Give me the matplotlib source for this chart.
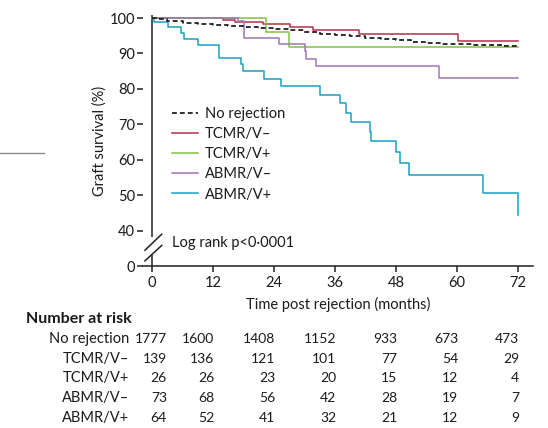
import numpy as np
import matplotlib
matplotlib.use("Agg")
import matplotlib.pyplot as plt
import matplotlib.transforms as mtrans

plt.rcParams['font.family'] = ['Lato', 'DejaVu Sans']
plt.rcParams['lines.scale_dashes'] = False

# Kaplan-Meier graft survival (%) by rejection group
groups = ["No rejection", "TCMR/V\u2013", "TCMR/V+", "ABMR/V\u2013", "ABMR/V+"]
colors = ["#231f20", "#b3304a", "#7fc241", "#9c76b6", "#1aa1c1"]

t_none = [0, 1, 3, 6, 9, 12, 15, 18, 21, 24, 27, 30, 33, 36, 39, 42, 45, 48, 51,
          54, 57, 60, 63, 66, 69, 72]
s_none = [100, 99.6, 99.2, 98.7, 98.3, 98.0, 97.8, 97.5, 97.2, 96.9, 96.5, 96.0,
          95.6, 95.2, 94.8, 94.4, 94.0, 93.7, 93.3, 93.0, 92.8, 92.6, 92.5, 92.3,
          92.2, 92.1]

t_tcmr_neg = [0, 14.0, 16.3, 21.9, 27.1, 31.7, 40.8, 60.3, 72]
s_tcmr_neg = [100, 99.5, 99.0, 98.2, 97.4, 96.6, 95.4, 93.6, 93.6]

t_tcmr_pos = [0, 22.4, 27.0, 72]
s_tcmr_pos = [100, 96.0, 91.8, 91.8]

t_abmr_neg = [0, 16.9, 18.1, 25.0, 30.1, 30.4, 32.2, 56.5, 72]
s_abmr_neg = [100, 99.2, 94.4, 92.6, 90.7, 88.5, 86.5, 83.1, 83.1]

t_abmr_pos = [0, 0.3, 3.1, 5.7, 6.2, 9.1, 13.2, 17.6, 18.0, 22.0, 25.4, 33.1,
              37.1, 38.1, 39.1, 42.9, 43.1, 48.1, 48.9, 50.6, 65.1, 72.0]
s_abmr_pos = [100, 98.9, 97.4, 95.7, 94.1, 92.5, 88.8, 87.1, 85.0, 82.8, 80.8,
              78.4, 75.9, 73.3, 70.7, 67.9, 65.3, 62.2, 59.0, 55.6, 50.5, 44.4]

times = [t_none, t_tcmr_neg, t_tcmr_pos, t_abmr_neg, t_abmr_pos]
surv = [s_none, s_tcmr_neg, s_tcmr_pos, s_abmr_neg, s_abmr_pos]

# Number at risk
risk_times = [0, 12, 24, 36, 48, 60, 72]
at_risk = {
    "No rejection": [1777, 1600, 1408, 1152, 933, 673, 473],
    "TCMR/V\u2013": [139, 136, 121, 101, 77, 54, 29],
    "TCMR/V+": [26, 26, 23, 20, 15, 12, 4],
    "ABMR/V\u2013": [73, 68, 56, 42, 28, 19, 7],
    "ABMR/V+": [64, 52, 41, 32, 21, 12, 9],
}

yticks = [0, 40, 50, 60, 70, 80, 90, 100]
xticks = [0, 12, 24, 36, 48, 60, 72]

W, H = 548, 428
fig = plt.figure(figsize=(W / 100, H / 100), dpi=100)
ax = fig.add_axes([142.9 / W, 1 - 266 / H, (533 - 142.9) / W, 251 / H])

# broken y axis: 0-40 compressed into a short segment
def fwd(v):
    v = np.asarray(v, dtype=float)
    return np.where(v >= 40, v, 30 + v * 0.25)

def inv(u):
    u = np.asarray(u, dtype=float)
    return np.where(u >= 40, u, (u - 30) * 4)

YTOP = 100.85
ax.set_yscale('function', functions=(fwd, inv))
ax.set_xlim(-1.8, 75)
ax.set_ylim(0, YTOP)

ink = "#231f20"
txt_c = '#1a1a1a'
for i, (t, s) in enumerate(zip(times, surv)):
    if i == 0:
        ax.plot(t, s, drawstyle='steps-post', color=colors[i], lw=1.3,
                dashes=(3.5, 2.2), label=groups[i], zorder=5)
    else:
        ax.plot(t, s, drawstyle='steps-post', color=colors[i], lw=1.1,
                label=groups[i], zorder=3)

for side in ['top', 'right', 'left']:
    ax.spines[side].set_visible(False)
ax.spines['bottom'].set_color(ink)
ax.spines['bottom'].set_linewidth(1.1)

# left axis line with break marks
ax.plot([0, 0], [32.5, YTOP], color=ink, lw=1.1, clip_on=False, solid_capstyle='butt')
ax.plot([0, 0], [0, 12.5], color=ink, lw=1.1, clip_on=False, solid_capstyle='butt')
ax.plot([-1.4, 1.9], [17.8, 35.9], color=ink, lw=1.1, clip_on=False)
ax.plot([-1.4, 1.9], [5.8, 23.2], color=ink, lw=1.1, clip_on=False)

ax.set_xticks(xticks)
ax.set_yticks(yticks)
ax.tick_params(axis='both', colors=ink, labelsize=10.5, width=1.1, direction='out')
ax.tick_params(axis='x', length=4.5, pad=2.5)
ax.tick_params(axis='y', length=4, pad=1.5)
for lab in ax.get_xticklabels() + ax.get_yticklabels():
    lab.set_color(txt_c)

ax.set_ylabel("Graft survival (%)", fontsize=10.5, color=txt_c)
ax.yaxis.set_label_coords(-0.093, 0.5)
ax.set_xlabel("Time post rejection (months)", fontsize=10.5, color=txt_c, labelpad=5)

ax.text(3.9, 25.6, "Log rank p<0\u00b70001", fontsize=10.5, color=txt_c,
        va='center', ha='left')

leg = ax.legend(loc='upper left', bbox_to_anchor=(172 / W, 1 - 107 / H),
                bbox_transform=fig.transFigure, frameon=False, fontsize=10.5,
                handlelength=1.8, handletextpad=0.45, labelspacing=0.42,
                borderpad=0, borderaxespad=0)
for txt in leg.get_texts():
    txt.set_color(txt_c)

# number-at-risk table
fig.text(26 / W, 1 - 319 / H, "Number at risk", fontsize=11.5, fontweight='bold',
         color=txt_c, ha='left', va='center')
row_y = [339, 359, 378, 398, 418]
blend = mtrans.blended_transform_factory(ax.transData, fig.transFigure)
for name, y in zip(groups, row_y):
    fig.text(129 / W, 1 - y / H, name, fontsize=10.5, color=txt_c,
             ha='right', va='center')
    for j, (tt, n) in enumerate(zip(risk_times, at_risk[name])):
        xpos = 2.9 if j == 0 else tt + 0.3
        ax.text(xpos, 1 - y / H, str(n), transform=blend, fontsize=10,
                color=txt_c, ha='right', va='center')

# stray rule at the left margin
fig.add_artist(plt.Line2D([0, 44 / W], [1 - 153 / H, 1 - 153 / H],
                          transform=fig.transFigure, color='#8a8a8a', lw=1.0))

fig.savefig("out.png", dpi=100)
